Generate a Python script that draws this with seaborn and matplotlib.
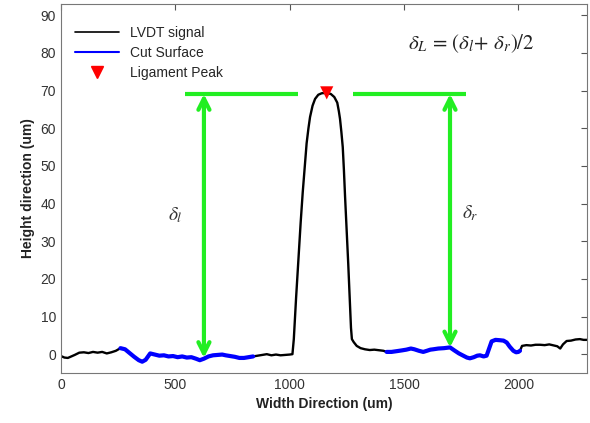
import numpy as np
import pandas as pd
import matplotlib
matplotlib.use("Agg")
import matplotlib.pyplot as plt
from matplotlib.lines import Line2D
import seaborn as sns

# profile (um)
width_um = [0, 15, 30, 45, 60, 80, 100, 120, 140, 160, 180, 200, 220, 240, 260, 280, 300, 320, 340, 355,
            370, 390, 410, 430, 450, 470, 490, 510, 530, 550, 570, 590, 607, 625, 645, 665, 685, 705, 720, 740,
            760, 780, 800, 820, 840, 860, 880, 900, 920, 940, 960, 980, 1000, 1012, 1018, 1028, 1038, 1048, 1057,
            1066, 1074, 1082, 1089, 1100, 1111, 1125, 1140, 1162, 1180, 1195, 1208, 1215, 1220, 1226, 1232, 1237,
            1242, 1249, 1256, 1263, 1268, 1272, 1280, 1293, 1310, 1329, 1350, 1370, 1395, 1410, 1424, 1445, 1468,
            1490, 1510, 1530, 1545, 1565, 1584, 1600, 1615, 1628, 1650, 1675, 1701, 1720, 1740, 1759, 1775, 1788,
            1805, 1820, 1832, 1848, 1861, 1872, 1883, 1900, 1920, 1935, 1949, 1962, 1978, 1990, 2000, 2007, 2016,
            2035, 2055, 2075, 2095, 2115, 2135, 2155, 2170, 2183, 2195, 2211, 2230, 2250, 2269, 2285, 2300]
height_um = [-0.5, -0.9, -1.0, -0.6, -0.2, 0.4, 0.5, 0.3, 0.6, 0.4, 0.6, 0.2, 0.5, 0.9, 1.6, 1.3, 0.3, -0.7, -1.6, -2.0,
             -1.5, 0.2, -0.1, -0.4, -0.3, -0.6, -0.5, -0.8, -0.6, -0.9, -0.8, -1.2, -1.6, -1.2, -0.6, -0.3, -0.2, -0.1, -0.3, -0.5,
             -0.7, -1.0, -1.0, -0.8, -0.6, -0.4, -0.2, 0.0, -0.3, -0.1, -0.3, -0.2, -0.1, 0.0, 4, 15, 25, 35, 43,
             50, 56, 60, 63, 66, 67.8, 68.9, 69.3, 69.4, 69.1, 68.3, 66.8, 64.5, 62.5, 59, 55, 49,
             42, 33, 24, 14, 7, 4, 3.2, 2.2, 1.6, 1.3, 1.1, 1.2, 1.0, 0.9, 0.6, 0.6, 0.8,
             1.0, 1.2, 1.5, 1.3, 0.9, 0.6, 0.9, 1.2, 1.3, 1.5, 1.6, 1.8, 1.0, 0.2, -0.4, -0.9, -1.1,
             -0.8, -0.4, -0.3, -0.6, -0.4, 1.5, 3.4, 3.8, 3.7, 3.6, 3.1, 2.0, 0.9, 0.5, 0.6, 0.9, 2.2,
             2.4, 2.3, 2.5, 2.5, 2.4, 2.6, 2.3, 2.1, 1.5, 2.6, 3.5, 3.6, 3.9, 4.0, 3.8, 3.8]

cut_ranges = [(260, 850), (1424, 2007)]
peak_x, peak_y = 1162, 69.4
ref_level = 69.1
ref_segments = [(542, 1035), (1277, 1770)]
arrow_x = [625, 1701]
arrow_bottom = [-1.0, 1.8]
delta_labels = [r"$\delta_l$", r"$\delta_r$"]
delta_pos = [(498, 37), (1788, 37.5)]

df = pd.DataFrame({"x": width_um, "y": height_um})
segs = []
for i, (a, b) in enumerate(cut_ranges):
    s = df[(df.x >= a) & (df.x <= b)].copy()
    s["seg"] = i
    segs.append(s)
cut = pd.concat(segs)

sns.set_style("white")
plt.rcParams["font.family"] = ["Liberation Sans", "DejaVu Sans"]
plt.rcParams["mathtext.fontset"] = "stix"

fig = plt.figure(figsize=(5.9, 4.23), dpi=100)
ax = fig.add_axes([0.1034, 0.1182, 0.8915, 0.8723])

green = "#22ee22"
sns.lineplot(data=df, x="x", y="y", color="black", lw=1.7, sort=False, ax=ax)
sns.lineplot(data=cut, x="x", y="y", units="seg", estimator=None, color="blue", lw=3, sort=False, ax=ax)

for a, b in ref_segments:
    ax.plot([a, b], [ref_level, ref_level], color=green, lw=3, solid_capstyle="butt")
for xa, yb in zip(arrow_x, arrow_bottom):
    ax.annotate("", xy=(xa, yb), xytext=(xa, ref_level),
                arrowprops=dict(arrowstyle="<->,head_length=0.8,head_width=0.4", color=green, lw=3,
                                shrinkA=0, shrinkB=0))
sns.scatterplot(x=[peak_x], y=[peak_y], marker="v", color="red", s=90, edgecolor="none", ax=ax, zorder=5)

for lab, (tx, ty) in zip(delta_labels, delta_pos):
    ax.text(tx, ty, lab, fontsize=14, ha="center", va="center", color="#333333")
ax.text(1793, 82.5, r"$\delta_L\,=\,(\delta_l\!+\,\delta_r)/2$", fontsize=15, ha="center", va="center",
        color="#222222")

ax.set_xlim(0, 2300)
ax.set_ylim(-5, 93)
ax.set_xticks([0, 500, 1000, 1500, 2000])
ax.set_yticks(range(0, 91, 10))
ax.tick_params(direction="in", top=True, right=True, labelsize=10, colors="#555555", labelcolor="#333333",
               length=4)
for sp in ax.spines.values():
    sp.set_color("#777777")
    sp.set_linewidth(0.8)
ax.set_xlabel("Width Direction (um)", fontsize=10, fontweight="bold", color="#222222")
ax.set_ylabel("Height direction (um)", fontsize=10, fontweight="bold", color="#222222")

handles = [Line2D([], [], color="black", lw=1.2),
           Line2D([], [], color="blue", lw=1.5),
           Line2D([], [], color="red", marker="v", ls="none", markersize=9)]
ax.legend(handles, ["LVDT signal", "Cut Surface", "Ligament Peak"], loc="upper left", frameon=False,
          fontsize=10, handlelength=3.2, labelspacing=0.42, borderaxespad=0.6,
          bbox_to_anchor=(0.0, 0.978))

plt.savefig("out.png", dpi=100)
